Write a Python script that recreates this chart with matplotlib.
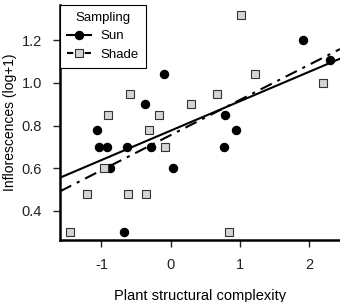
import numpy as np
import matplotlib
matplotlib.use("Agg")
import matplotlib.pyplot as plt

plt.rcParams['font.family'] = ['Liberation Sans', 'DejaVu Sans']

# Sun sampling points
sun_x = [-1.07, -1.04, -0.92, -0.88, -0.63, -0.68, -0.37, -0.28, -0.09, 0.04,
         0.79, 0.77, 0.95, 1.92, 2.31]
sun_y = [0.78, 0.70, 0.70, 0.60, 0.70, 0.30, 0.90, 0.70, 1.04, 0.60,
         0.85, 0.70, 0.78, 1.20, 1.11]

# Shade sampling points
shade_x = [-1.45, -1.21, -0.96, -0.90, -0.59, -0.61, -0.36, -0.32, -0.17, -0.08,
           0.29, 0.67, 0.84, 1.02, 1.22, 2.20]
shade_y = [0.30, 0.48, 0.60, 0.85, 0.95, 0.48, 0.48, 0.78, 0.85, 0.70,
           0.90, 0.95, 0.30, 1.32, 1.04, 1.00]

# fitted lines (intercept, slope)
sun_fit = [0.776, 0.138]
shade_fit = [0.755, 0.165]

x_ticks = [-1, 0, 1, 2]
y_ticks = [0.4, 0.6, 0.8, 1.0, 1.2]

fig = plt.figure(figsize=(3.4, 3.02), dpi=100)
ax = fig.add_axes([0.1765, 0.2053, 0.8235, 0.778])

xlim = (-1.6, 2.45)
ax.set_xlim(*xlim)
ax.set_ylim(0.2625, 1.366)

xs = np.array(xlim)
ax.plot(xs, sun_fit[0] + sun_fit[1] * xs, color="black", lw=1.5, zorder=2)
ax.plot(xs, shade_fit[0] + shade_fit[1] * xs, color="black", lw=1.5,
        dashes=(6, 3, 1.5, 3), zorder=2)

ax.plot(sun_x, sun_y, "o", color="black", ms=5.8, zorder=3)
ax.plot(shade_x, shade_y, "s", mfc="#d4d4d4", mec="#333333", mew=0.8, ms=5.4, zorder=3)

# legend handles
h_sun, = ax.plot([], [], "-o", color="black", lw=1.5, ms=5.8)
h_shade, = ax.plot([], [], "s", mfc="#d4d4d4", mec="#333333", mew=0.8, ms=5.4,
                   ls=(0, (3, 2, 1.5, 2)), color="black", lw=1.5)
leg = ax.legend([h_sun, h_shade], ["Sun", "Shade"], title="Sampling",
                loc="upper left", bbox_to_anchor=(0, 1), borderaxespad=0,
                fancybox=False, edgecolor="black", framealpha=1,
                fontsize=9.5, title_fontsize=9.5, handlelength=1.8,
                handletextpad=0.7, borderpad=0.55, labelspacing=0.45)
leg.get_frame().set_linewidth(0.8)

for s in ["top", "right"]:
    ax.spines[s].set_visible(False)
for s in ["left", "bottom"]:
    ax.spines[s].set_linewidth(1.8)

ax.set_xticks(x_ticks)
ax.set_xticklabels(["-1", "0", "1", "2"])
ax.set_yticks(y_ticks)
ax.set_yticklabels(["0.4", "0.6", "0.8", "1.0", "1.2"])
ax.tick_params(labelsize=10.5, length=5, width=1, direction="out", pad=8,
               colors="#222222")

ax.set_xlabel("Plant structural complexity", fontsize=10.5, labelpad=12)
ax.set_ylabel("Inflorescences (log+1)", fontsize=10, labelpad=3)

fig.savefig("out.png", dpi=100)
